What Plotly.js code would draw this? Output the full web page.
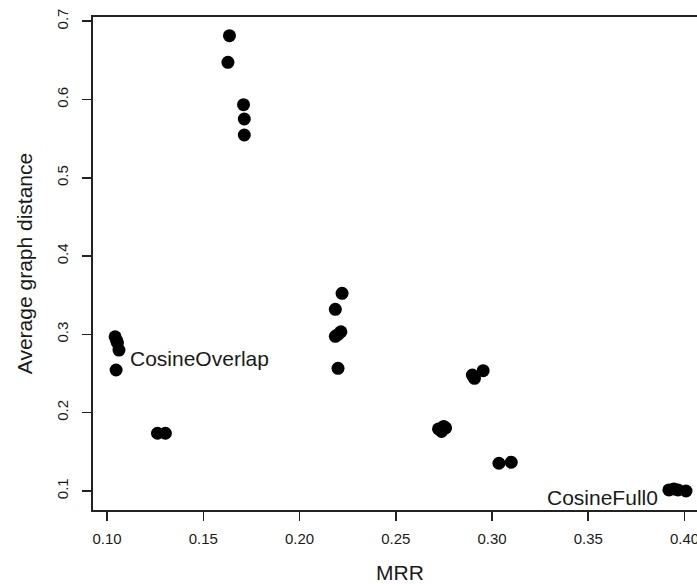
<!DOCTYPE html>
<html>
<head>
<meta charset="utf-8">
<script src="https://cdn.plot.ly/plotly-3.0.1.min.js"></script>
<style>
html, body { margin: 0; padding: 0; overflow: hidden; background: #fff; }
#chart { width: 708px; height: 584px; }
</style>
</head>
<body>
<div id="chart"></div>
<script>
// MRR (x) and average graph distance (y) for each run
const mrr = [
  0.1042, 0.1050, 0.1054, 0.1062, 0.1047,
  0.1262, 0.1303,
  0.1636, 0.1628, 0.1709, 0.1713, 0.1713,
  0.2221, 0.2186, 0.2215, 0.2186, 0.2200, 0.2200,
  0.2898, 0.2909, 0.2954,
  0.2722, 0.2759, 0.2738, 0.2749,
  0.3036, 0.3100,
  0.3919, 0.3945, 0.3966, 0.4008
];
const avgDist = [
  0.297, 0.292, 0.289, 0.280, 0.2545,
  0.1737, 0.1737,
  0.6815, 0.6475, 0.5934, 0.5751, 0.5547,
  0.3525, 0.332, 0.3034, 0.2975, 0.300, 0.2567,
  0.2481, 0.2439, 0.2536,
  0.1792, 0.1805, 0.1760, 0.1824,
  0.1354, 0.1367,
  0.1013, 0.1026, 0.1013, 0.1000
];
const xTickVals = [0.10, 0.15, 0.20, 0.25, 0.30, 0.35, 0.40];
const xTickText = ["0.10", "0.15", "0.20", "0.25", "0.30", "0.35", "0.40"];
const yTickVals = [0.1, 0.2, 0.3, 0.4, 0.5, 0.6, 0.7];
const yTickText = ["0.1", "0.2", "0.3", "0.4", "0.5", "0.6", "0.7"];
const labelText = ["CosineOverlap", "CosineFull0"];
const labelX = [0.1109, 0.3874];
const labelY = [0.2686, 0.0911];

const FONT = '"Liberation Sans", Arial, sans-serif';
const INK = '#1a1a1a';

const trace = {
  type: 'scatter',
  mode: 'markers',
  x: mrr,
  y: avgDist,
  marker: { color: '#000', size: 13, line: { width: 0 } },
  hoverinfo: 'x+y'
};

const layout = {
  width: 708,
  height: 584,
  margin: { l: 93, r: 1, t: 17, b: 74 },
  paper_bgcolor: '#fff',
  plot_bgcolor: '#fff',
  showlegend: false,
  font: { family: FONT, color: INK },
  xaxis: {
    range: [0.0927, 0.4117],
    tickmode: 'array',
    tickvals: xTickVals,
    ticktext: xTickText,
    ticks: 'outside',
    ticklen: 9,
    tickwidth: 1.5,
    tickcolor: '#222',
    tickfont: { size: 15, family: FONT, color: INK },
    ticklabelstandoff: 5,
    showline: true,
    linecolor: '#222',
    linewidth: 2,
    mirror: true,
    showgrid: false,
    zeroline: false,
    title: { text: 'MRR', font: { size: 21, family: FONT, color: INK }, standoff: 20 }
  },
  yaxis: {
    range: [0.0757, 0.7054],
    tickmode: 'array',
    tickvals: yTickVals,
    ticktext: yTickText,
    tickangle: -90,
    ticks: 'outside',
    ticklen: 9,
    tickwidth: 1.5,
    tickcolor: '#222',
    tickfont: { size: 15, family: FONT, color: INK },
    ticklabelstandoff: 8,
    showline: true,
    linecolor: '#222',
    linewidth: 2,
    mirror: true,
    showgrid: false,
    zeroline: false,
    title: { text: 'Average graph distance', font: { size: 21, family: FONT, color: INK }, standoff: 16 }
  },
  annotations: [
    { x: labelX[0], y: labelY[0], xref: 'x', yref: 'y', text: labelText[0], showarrow: false,
      xanchor: 'left', yanchor: 'middle', font: { size: 21, family: FONT, color: INK } },
    { x: labelX[1], y: labelY[1], xref: 'x', yref: 'y', text: labelText[1], showarrow: false,
      xanchor: 'right', yanchor: 'middle', font: { size: 21, family: FONT, color: INK } }
  ]
};

Plotly.newPlot('chart', [trace], layout, { displayModeBar: false, staticPlot: true });
</script>
</body>
</html>
